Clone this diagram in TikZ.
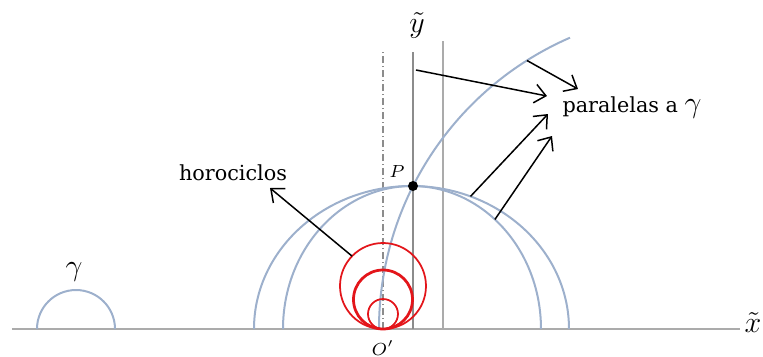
\documentclass[tikz,border=0pt]{standalone}
\usepackage{fontspec}
\setmainfont{DejaVu Serif}
\usepackage{xcolor}
\usetikzlibrary{arrows.meta, positioning, calc}
\definecolor{geo}{HTML}{9DB0CC}
\definecolor{horo}{HTML}{E3151A}
\definecolor{axis}{HTML}{ABABAB}
\definecolor{axisDark}{HTML}{8C8C8C}
\tikzset{
  geodesic/.style = {draw=geo, line width=0.8pt},
  horoThin/.style = {draw=horo, line width=0.7pt},
  horoThick/.style = {draw=horo, line width=1.1pt},
  axisLine/.style = {draw=axis, line width=0.8pt},
  axisDarkLine/.style = {draw=axisDark, line width=0.8pt},
  dashDotLine/.style = {draw=axisDark, line width=0.6pt,
    dash pattern=on 2.8pt off 1.2pt on 0.4pt off 1.2pt},
  txtLabel/.style = {font=\fontsize{8.3}{10}\selectfont, inner sep=1pt},
  mathLabel/.style = {font=\fontsize{12}{13}\selectfont, inner sep=1pt},
  smallMath/.style = {font=\fontsize{7.5}{8}\selectfont, inner sep=1pt},
  ok/.style = {-{Straight Barb[length=4.4pt, width=7.5pt]}, line width=0.6pt, draw=black},
}

\begin{document}
\begin{tikzpicture}[x=0.4pt, y=0.4pt]
\useasboundingbox (0,0) rectangle (763,356);

% ejes
\coordinate (xl) at (12,27);
\coordinate (xr) at (740,27);
\coordinate (O) at (383,27);
\coordinate (dd) at (383,304);
\coordinate (y0) at (413,27);
\coordinate (y1) at (413,304);
\coordinate (v0) at (443,27);
\coordinate (v1) at (443,315);
\draw[axisLine] (xl) -- (xr);
\draw[dashDotLine] (O) -- (dd);
\draw[axisDarkLine] (y0) -- (y1);
\draw[axisLine] (v0) -- (v1);
\node[mathLabel] (xt) at (753,33) {$\tilde{x}$};
\node[mathLabel] (yt) at (417,331) {$\tilde{y}$};
\node[smallMath] (Ol) at (383,8) {$O'$};

% geodesicas por P
\coordinate (cOut) at (411.5,27);
\coordinate (cIn) at (412,27);
\coordinate (cBig) at (696.7,27);
\draw[geodesic] (254,27) arc[start angle=180, end angle=0, x radius=157.5, y radius=143];
\draw[geodesic] (283,27) arc[start angle=180, end angle=0, x radius=129, y radius=143];
\draw[geodesic] (379,27) arc[start angle=180, end angle=113.5, radius=317.7];
\node[circle, fill=black, inner sep=0pt, minimum size=4pt] (P) at (413,170) {};
\node[smallMath] (Pl) at (397,184) {$P$};

% gamma
\draw[geodesic] (37,27) arc[start angle=180, end angle=0, radius=39];
\node[mathLabel] (g) at (74,84) {$\gamma$};

% horociclos
\coordinate (h1) at (383,70);
\draw[horoThin] (h1) circle[radius=43];
\draw[horoThick] (383,56.5) circle[radius=29.5];
\draw[horoThin] (383,42) circle[radius=15];

% etiquetas
\node[txtLabel] (par) at (632,248) {paralelas a {\fontsize{12}{13}\selectfont$\gamma$}};
\node[txtLabel] (horo) at (233,183) {horociclos};

\coordinate (t1) at (416,286);
\coordinate (e1) at (547,260);
\coordinate (t2) at ($(cBig)+(122.3:317.7)$);
\coordinate (e2) at (578,267);
\coordinate (t3) at ($(cOut)+(68:157.5 and 143)$);
\coordinate (e3) at (548,242);
\coordinate (t4) at ($(cIn)+(50:129 and 143)$);
\coordinate (e4) at (552,220);
\coordinate (th) at ($(h1)+(136:43)$);
\coordinate (eh) at (270,168);

\draw[ok] (t1) -- (e1);
\draw[ok] (t2) -- (e2);
\draw[ok] (t3) -- (e3);
\draw[ok] (t4) -- (e4);
\draw[ok] (th) -- (eh);
\end{tikzpicture}
\end{document}
